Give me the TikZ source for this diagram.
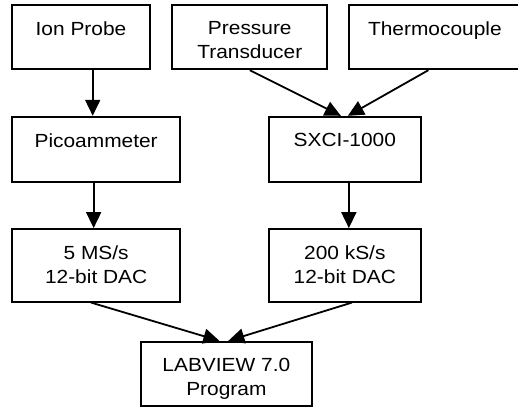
\documentclass[tikz,border=0pt]{standalone}
\usepackage{fontspec}
\setmainfont{Liberation Sans}[FakeStretch=1.1]
\usetikzlibrary{arrows.meta,calc}
\begin{document}
\begin{tikzpicture}[x=1pt,y=-1pt,
  box/.style={draw=black,line width=1.8pt,rectangle,inner sep=0pt},
  txt/.style={anchor=north,inner sep=0pt,align=center,
    font=\fontsize{19}{23.5}\selectfont},
  arr/.style={line width=1.8pt,-{Triangle[length=16pt,width=15pt]}}]
\useasboundingbox (0,0) rectangle (518,408);
% boxes: center, width, height
\node[box,minimum width=137.4pt,minimum height=64.3pt] (ion) at (81,37.15) {};
\node[box,minimum width=155pt,minimum height=64.3pt] (press) at (249.8,37.15) {};
\node[box,minimum width=172.3pt,minimum height=64.3pt] (thermo) at (434.85,37.15) {};
\node[box,minimum width=167.7pt,minimum height=65pt] (pico) at (96.15,149.2) {};
\node[box,minimum width=151.7pt,minimum height=65pt] (sxci) at (344.85,149.2) {};
\node[box,minimum width=167.7pt,minimum height=72.7pt] (dac1) at (96.15,265.35) {};
\node[box,minimum width=151.7pt,minimum height=72.7pt] (dac2) at (344.85,265.35) {};
\node[box,minimum width=170.7pt,minimum height=64.3pt] (lab) at (226.35,373.85) {};
% texts
\node[txt] (tion) at ([yshift=-17.6pt]ion.north) {Ion Probe};
\node[txt] (tpress) at ([yshift=-17.6pt]press.north) {Pressure\\Transducer};
\node[txt] (tthermo) at ([yshift=-17.6pt]thermo.north) {Thermocouple};
\node[txt] (tpico) at ([yshift=-17.6pt]pico.north) {Picoammeter};
\node[txt] (tsxci) at ([yshift=-17.6pt]sxci.north) {SXCI-1000};
\node[txt] (tdac1) at ([yshift=-17.6pt]dac1.north) {5 MS/s\\12-bit DAC};
\node[txt] (tdac2) at ([yshift=-17.6pt]dac2.north) {200 kS/s\\12-bit DAC};
\node[txt] (tlab) at ([yshift=-17.6pt]lab.north) {LABVIEW 7.0\\Program};
% connectors
\draw[arr] ([xshift=11.7pt]ion.south) -- ([xshift=11.7pt]ion.south |- pico.north);
\draw[arr] (press.south) -- ([xshift=-4pt]sxci.north);
\draw[arr] ([xshift=-6.5pt]thermo.south) -- ([xshift=3pt]sxci.north);
\draw[arr] ([xshift=-2.5pt]pico.south) -- ([xshift=-2.5pt]dac1.north);
\draw[arr] ([xshift=4pt]sxci.south) -- ([xshift=4pt]dac2.north);
\draw[arr] ([xshift=-5pt]dac1.south) -- ([xshift=-7pt]lab.north);
\draw[arr] ([xshift=7pt]dac2.south) -- ([xshift=2pt]lab.north);
\end{tikzpicture}
\end{document}
